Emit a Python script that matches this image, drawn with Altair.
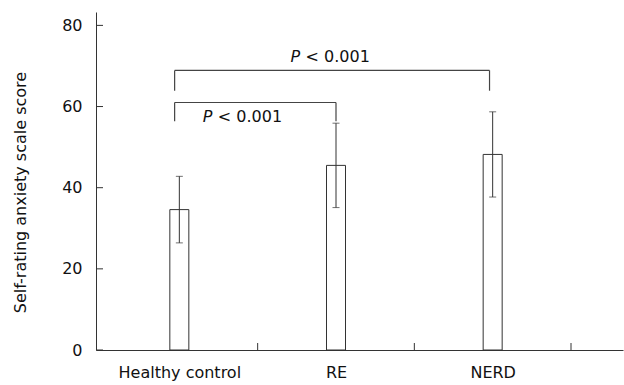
import altair as alt
import pandas as pd

# --- data ---
groups = ["Healthy control", "RE", "NERD"]
group_pos = [0.5, 1.5, 2.5]
means = [34.6, 45.5, 48.2]
sds = [8.2, 10.4, 10.5]

y_ticks = [0, 20, 40, 60, 80]
x_ticks = [1, 2, 3]

# significance brackets (lower: HC vs RE, upper: HC vs NERD)
br_left = [0.47, 0.47]
br_right = [1.5, 2.48]
br_top = [61.0, 68.9]
br_bottom = [56.4, 63.9]
p_x = [0.65, 1.21]
p_y = [57.4, 72.1]

FONT = "DejaVu Sans"
W, H = 527, 338
X_DOMAIN = [0, 3.3]
Y_DOMAIN = [0, 83.3]

df = pd.DataFrame({"group": groups, "pos": group_pos, "mean": means, "sd": sds})
df["lo"] = df["mean"] - df["sd"]
df["hi"] = df["mean"] + df["sd"]

br = pd.DataFrame({"l": br_left, "r": br_right, "t": br_top, "b": br_bottom})
pdf = pd.DataFrame({"x": p_x, "y": p_y})
yt = pd.DataFrame({"v": y_ticks})
xt = pd.DataFrame({"v": x_ticks})

label_expr = "datum.value == 0.5 ? 'Healthy control' : datum.value == 1.5 ? 'RE' : datum.value == 2.5 ? 'NERD' : ''"

xscale = alt.Scale(domain=X_DOMAIN, nice=False, zero=False)
yscale = alt.Scale(domain=Y_DOMAIN, nice=False)

base = alt.Chart(df)

bars = base.mark_bar(size=19, fill="white", stroke="#333", strokeWidth=1).encode(
    x=alt.X("pos:Q", scale=xscale,
            axis=alt.Axis(values=group_pos, labelExpr=label_expr, ticks=False,
                          labelPadding=14, labelFontSize=16, labelFont=FONT,
                          labelColor="#111", domainColor="#333", grid=False,
                          title=None, labelFlush=False)),
    y=alt.Y("mean:Q", scale=yscale,
            axis=alt.Axis(values=y_ticks, ticks=False, labelPadding=14,
                          labelFontSize=16, labelFont=FONT, labelColor="#111",
                          domainColor="#333", grid=False,
                          title="Self-rating anxiety scale score",
                          titleFont=FONT, titleFontSize=16, titleFontWeight="normal",
                          titleColor="#111", titleX=-76, titleY=180,
                          titleBaseline="middle", titleAlign="center", titleAngle=270)),
)

err = base.mark_rule(color="#333", strokeWidth=1).encode(
    x=alt.X("pos:Q", scale=xscale), y=alt.Y("lo:Q", scale=yscale), y2="hi:Q"
)
cap_hi = base.mark_tick(orient="horizontal", size=7, thickness=1, color="#333").encode(
    x=alt.X("pos:Q", scale=xscale), y=alt.Y("hi:Q", scale=yscale)
)
cap_lo = base.mark_tick(orient="horizontal", size=7, thickness=1, color="#333").encode(
    x=alt.X("pos:Q", scale=xscale), y=alt.Y("lo:Q", scale=yscale)
)

bcol = "#444"
br_h = alt.Chart(br).mark_rule(color=bcol, strokeWidth=1.2).encode(
    x=alt.X("l:Q", scale=xscale), x2="r:Q", y=alt.Y("t:Q", scale=yscale)
)
br_l = alt.Chart(br).mark_rule(color=bcol, strokeWidth=1.2).encode(
    x=alt.X("l:Q", scale=xscale), y=alt.Y("t:Q", scale=yscale), y2="b:Q"
)
br_r = alt.Chart(br).mark_rule(color=bcol, strokeWidth=1.2).encode(
    x=alt.X("r:Q", scale=xscale), y=alt.Y("t:Q", scale=yscale), y2="b:Q"
)

p_it = alt.Chart(pdf).mark_text(text="P", font=FONT, fontSize=16, fontStyle="italic",
                                align="left", baseline="middle", color="#111").encode(
    x=alt.X("x:Q", scale=xscale), y=alt.Y("y:Q", scale=yscale)
)
p_rest = alt.Chart(pdf).mark_text(text="< 0.001", font=FONT, fontSize=16,
                                  align="left", baseline="middle", dx=15, color="#111").encode(
    x=alt.X("x:Q", scale=xscale), y=alt.Y("y:Q", scale=yscale)
)

ytick_marks = alt.Chart(yt).mark_rule(color="#333", strokeWidth=1).encode(
    x=alt.value(0), x2=alt.value(7), y=alt.Y("v:Q", scale=yscale)
)
xtick_marks = alt.Chart(xt).mark_rule(color="#333", strokeWidth=1).encode(
    x=alt.X("v:Q", scale=xscale), y=alt.value(H), y2=alt.value(H - 7)
)

chart = alt.layer(
    bars, err, cap_hi, cap_lo, br_h, br_l, br_r, p_it, p_rest, ytick_marks, xtick_marks
).properties(
    width=W, height=H,
    autosize=alt.AutoSizeParams(type="none"),
    padding={"left": 96, "top": 12, "right": 1, "bottom": 35},
    background="white",
).configure_view(stroke=None)

chart.save("out.html", embed_options={"renderer": "svg", "actions": False})
